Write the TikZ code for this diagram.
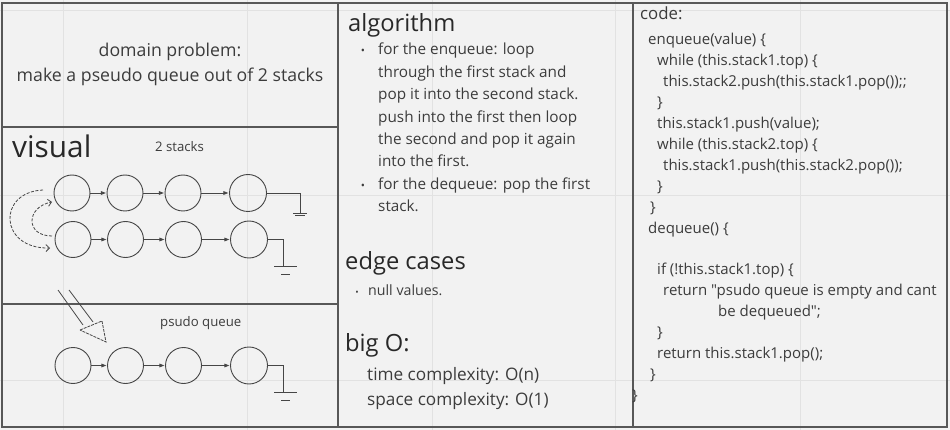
\documentclass[tikz,border=0pt]{standalone}
\usepackage{fontspec}
\setmainfont{Open Sans}
\newfontfamily\plainquotes{Open Sans}[Ligatures=TeXOff]
\usetikzlibrary{arrows.meta}
\definecolor{bg}{RGB}{242,242,242}
\definecolor{gridc}{RGB}{226,226,226}
\definecolor{frame}{RGB}{88,88,88}
\definecolor{ink}{RGB}{70,70,70}
\definecolor{txt}{RGB}{60,60,60}
\definecolor{head}{RGB}{40,40,40}
\begin{document}
\begin{tikzpicture}[x=1pt,y=-1pt,
  panel/.style={draw=frame,line width=1.6pt},
  gridline/.style={draw=gridc,line width=0.8pt},
  cnode/.style={circle,draw=ink,line width=0.9pt,minimum size=36pt,inner sep=0pt},
  link/.style={draw=ink,line width=0.9pt,-{Triangle[length=5pt,width=3.6pt]},shorten >=0.6pt},
  wire/.style={draw=ink,line width=0.9pt},
  swing/.style={draw=ink,line width=0.8pt,dash pattern=on 3pt off 1.6pt,-{Straight Barb[length=3.5pt,width=7pt]}},
  tl/.style={anchor=base west,inner sep=0pt,text=txt},
  heading/.style={tl,text=head,font=\fontsize{23.7}{28}\selectfont},
  bodytext/.style={tl,font=\fontsize{15.3}{18}\selectfont},
  codetext/.style={tl,font=\plainquotes\fontsize{15}{17}\selectfont},
  bul/.style={anchor=base,inner sep=0pt,text=txt,font=\fontsize{11}{12}\selectfont}
]
\useasboundingbox (0,0) rectangle (950,430);
\fill[bg] (0,0) rectangle (950,430);
% faint background grid
\foreach \gx in {63,247,432,615,800} \draw[gridline] (\gx,0) -- (\gx,430);
\foreach \gy in {10,195,380} \draw[gridline] (0,\gy) -- (950,\gy);

% panels
\draw[panel] (2,3) rectangle (338,127);
\draw[panel] (2,127) rectangle (338,304);
\draw[panel] (2,304) rectangle (338,427);
\draw[panel] (338,3) rectangle (633,427);
\draw[panel] (633,3) rectangle (947,427);

% domain problem
\node[anchor=base,inner sep=0pt,text=txt,font=\fontsize{17.7}{20}\selectfont] (dp1) at (170,57) {domain problem:};
\node[anchor=base,inner sep=0pt,text=txt,font=\fontsize{17.7}{20}\selectfont] (dp2) at (170,82) {make a pseudo queue out of 2 stacks};

% visual
\node[tl,text=head,font=\fontsize{29.8}{34}\selectfont] (vis) at (12,158) {visual};
\node[tl,font=\fontsize{13.2}{15}\selectfont] (two) at (155,152) {2 stacks};

% stack rows
\node[cnode] (a1) at (72,193) {};
\node[cnode] (a2) at (125,193) {};
\node[cnode] (a3) at (183,193) {};
\node[cnode,minimum size=37pt] (a4) at (248,193) {};
\node[cnode] (b1) at (73,239.5) {};
\node[cnode] (b2) at (125.5,239.5) {};
\node[cnode] (b3) at (183.5,239.5) {};
\node[cnode,minimum size=37pt] (b4) at (249,239.5) {};
\draw[link] (a1) -- (a2);
\draw[link] (a2) -- (a3);
\draw[link] (a3) -- (a4);
\draw[link] (b1) -- (b2);
\draw[link] (b2) -- (b3);
\draw[link] (b3) -- (b4);

% grounds
\coordinate (ga) at (300,213);
\draw[wire] (a4.east) -| (ga);
\draw[wire] (293,213) -- (307,213);
\draw[wire] (295,215.5) -- (305,215.5);
\coordinate (gb) at (283,266);
\draw[wire] (b4.east) -| (gb);
\draw[wire] (274,266) -- (297,266);
\draw[wire] (281,274) -- (290,274);

% swap arrows
\coordinate (s1) at (43,190);
\coordinate (e1) at (50,248);
\draw[swing] (s1) .. controls (-3,192) and (-1,249) .. (e1);
\coordinate (s2) at (52,236);
\coordinate (e2) at (52,202);
\draw[swing] (s2) .. controls (25,236) and (26,207) .. (e2);

% big hollow arrow
\draw[wire,line width=0.8pt] (58,290) -- (83,325);
\draw[wire,line width=0.8pt] (69,290) -- (93,322);
\draw[wire,line width=0.8pt,dash pattern=on 3pt off 1pt] (80,330) -- (102,321) -- (106,342) -- cycle;

% pseudo queue
\node[tl,font=\fontsize{13.2}{15}\selectfont] (pq) at (160,326) {psudo queue};
\node[cnode] (q1) at (73,365.5) {};
\node[cnode] (q2) at (125.5,365.5) {};
\node[cnode] (q3) at (183.5,365.5) {};
\node[cnode,minimum size=37pt] (q4) at (249,365.5) {};
\draw[link] (q1) -- (q2);
\draw[link] (q2) -- (q3);
\draw[link] (q3) -- (q4);
\coordinate (gq) at (283,392);
\draw[wire] (q4.east) -| (gq);
\draw[wire] (274,392) -- (297,392);
\draw[wire] (281,400) -- (290,400);

% algorithm panel
\node[heading] (alg) at (348,32) {algorithm};
\node[bul] (bu1) at (363,55) {•};
\node[bodytext] (l1) at (378,55) {for the enqueue: loop};
\node[bodytext] (l2) at (378,77.4) {through the first stack and};
\node[bodytext] (l3) at (378,99.8) {pop it into the second stack.};
\node[bodytext] (l4) at (378,122.2) {push into the first then loop};
\node[bodytext] (l5) at (378,144.6) {the second and pop it again};
\node[bodytext] (l6) at (378,167) {into the first.};
\node[bul] (bu2) at (363,189.4) {•};
\node[bodytext] (l7) at (378,189.4) {for the dequeue: pop the first};
\node[bodytext] (l8) at (378,211.8) {stack.};

\node[heading] (edge) at (345,270) {edge cases};
\node[bul,font=\fontsize{9}{10}\selectfont] (bu3) at (357,295) {•};
\node[tl,font=\fontsize{14.2}{16}\selectfont] (nv) at (368,295) {null values.};

\node[heading] (bigo) at (345,351) {big O:};
\node[tl,font=\fontsize{17.2}{19}\selectfont] (tc) at (367,380) {time complexity: O(n)};
\node[tl,font=\fontsize{17.2}{19}\selectfont] (sc) at (367,405) {space complexity: O(1)};

% code panel
\node[tl,font=\fontsize{16.8}{19}\selectfont] (code) at (640,20) {code:};
\node[codetext] (c0) at (648,45) {enqueue(value) \{};
\node[codetext] (c1) at (657,65.9) {while (this.stack1.top) \{};
\node[codetext] (c2) at (663,86.8) {this.stack2.push(this.stack1.pop());;};
\node[codetext] (c3) at (657,107.7) {\}};
\node[codetext] (c4) at (657,128.6) {this.stack1.push(value);};
\node[codetext] (c5) at (657,149.5) {while (this.stack2.top) \{};
\node[codetext] (c6) at (663,170.4) {this.stack1.push(this.stack2.pop());};
\node[codetext] (c7) at (657,191.3) {\}};
\node[codetext] (c8) at (650,212.2) {\}};
\node[codetext] (c9) at (648,233.1) {dequeue() \{};
\node[codetext] (c11) at (657,274.9) {if (!this.stack1.top) \{};
\node[codetext] (c12) at (663,295.8) {return "psudo queue is empty and cant};
\node[codetext] (c13) at (718,316.7) {be dequeued";};
\node[codetext] (c14) at (657,337.6) {\}};
\node[codetext] (c15) at (657,358.5) {return this.stack1.pop();};
\node[codetext] (c16) at (650,379.4) {\}};
\node[codetext] (c17) at (632,400.3) {\}};
\end{tikzpicture}
\end{document}
